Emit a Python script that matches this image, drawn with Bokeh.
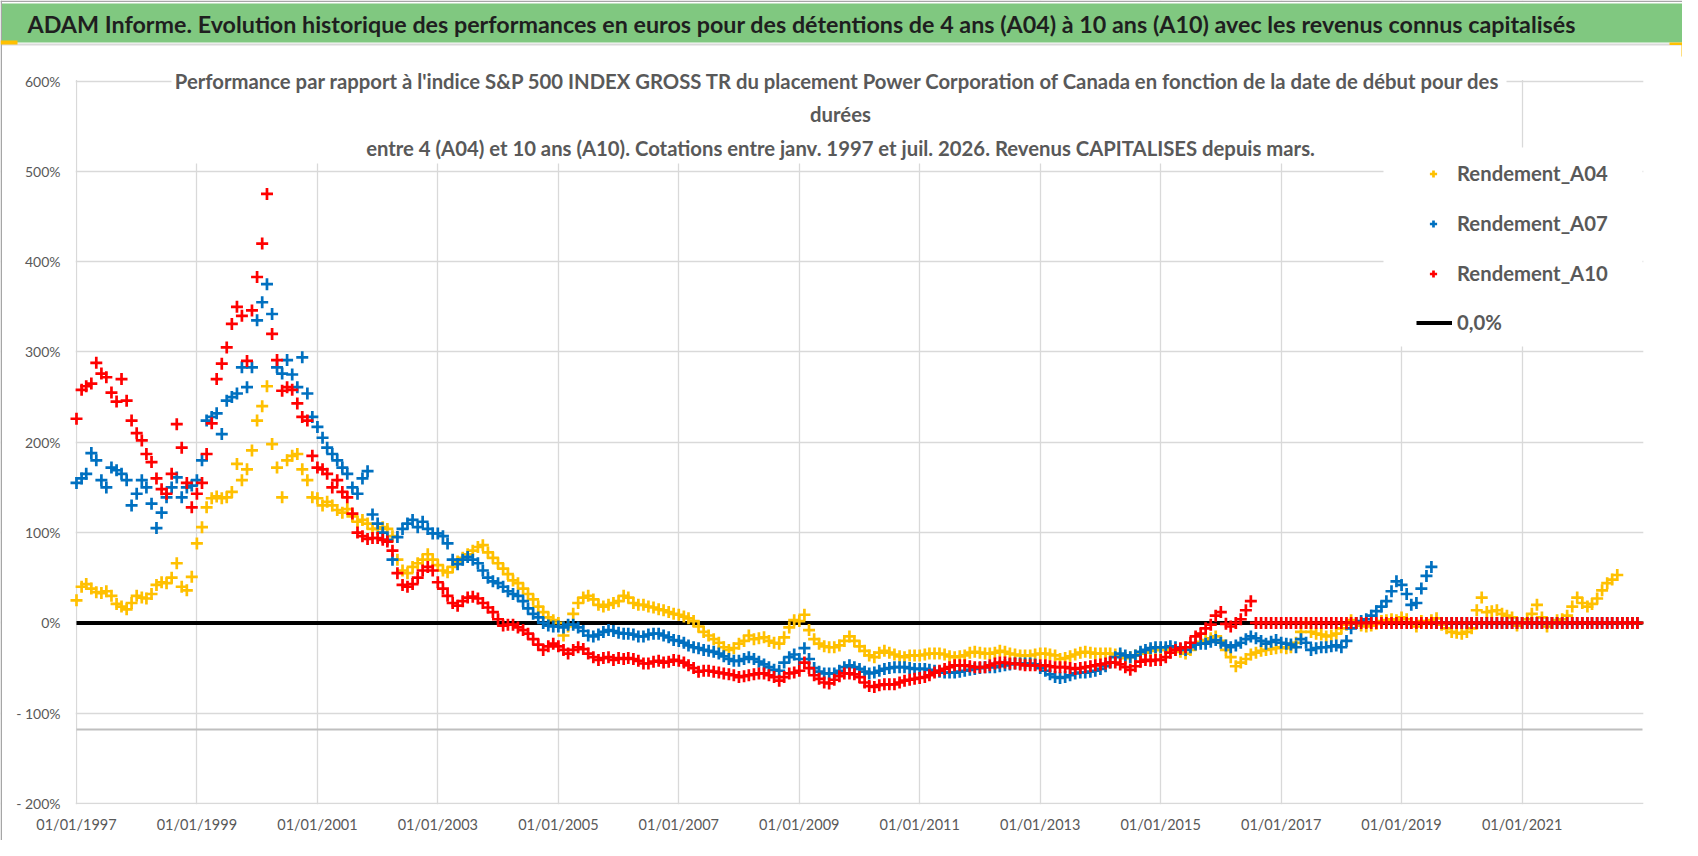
import pandas as pd
from bokeh.plotting import figure
from bokeh.models import (Range1d, FixedTicker, DatetimeTickFormatter, Label, Legend,
                          LegendItem, BoxAnnotation, ColumnDataSource)
from bokeh.embed import file_html
from bokeh.resources import INLINE

FONT = "Lato"
GREY_TEXT = "#595959"

header_text = ("ADAM Informe. Evolution historique des performances en euros pour des "
               "détentions de 4 ans (A04) à 10 ans (A10) avec les revenus connus capitalisés")
title_lines = [
    "Performance par rapport à l'indice S&P 500 INDEX GROSS TR  du placement Power "
    "Corporation of Canada en fonction de la date de début pour des",
    "durées",
    "entre 4 (A04) et 10 ans (A10). Cotations entre janv. 1997 et juil. 2026. "
    "Revenus CAPITALISES depuis mars.",
]

# monthly readings (%), first value = January 1997
first_month = "1997-01-01"
rendement_a04 = [
    25, 40, 43, 38, 34, 33, 35, 30, 21, 18, 15, 22,
    30, 28, 27, 32, 42, 45, 44, 50, 66, 40, 36, 51,
    88, 106, 128, 138, 140, 138, 139, 145, 176, 158, 170, 191,
    224, 240, 262, 198, 172, 139, 180, 185, 187, 170, 158, 139,
    138, 130, 134, 130, 125, 122, 126, 118, 112, 114, 110, 104,
    104, 106, 104, 96, 70, 58, 55, 62, 66, 70, 76, 70,
    64, 58, 56, 62, 68, 72, 76, 80, 84, 86, 78, 72,
    66, 60, 54, 47, 44, 38, 32, 26, 18, 12, 6, 3,
    0, -14, -4, 10, 22, 28, 30, 26, 20, 18, 20, 22,
    24, 30, 28, 22, 20, 20, 18, 17, 15, 14, 12, 10,
    9, 7, 5, 2, -4, -10, -14, -18, -22, -27, -30, -28,
    -23, -20, -14, -18, -17, -16, -20, -22, -23, -16, -5, 3,
    2, 9, -8, -18, -23, -26, -27, -27, -25, -20, -15, -20,
    -26, -31, -36, -38, -33, -31, -33, -35, -37, -38, -36, -36,
    -36, -35, -34, -34, -34, -35, -37, -38, -37, -36, -33, -32,
    -33, -34, -34, -33, -31, -32, -34, -35, -36, -36, -36, -35,
    -34, -34, -35, -36, -40, -39, -37, -35, -33, -32, -33, -34,
    -34, -34, -34, -35, -37, -39, -38, -36, -34, -33, -31, -30,
    -30, -30, -29, -30, -32, -34, -30, -24, -21, -19, -17, -15,
    -20, -30, -38, -48, -44, -40, -35, -33, -31, -30, -29, -28,
    -27, -28, -27, -22, -10, 0, -10, -12, -13, -15, -14, -12,
    -6, -2, 3, 0, -3, -4, -3, -1, 2, 3, 4, 3,
    6, 4, 0, -4, 2, 0, 3, 5, -2, -6, -10, -11,
    -12, -10, -6, 14, 28, 12, 13, 14, 10, 8, 6, -3,
    0, 4, 10, 20, 6, -4, 0, 3, 4, 8, 18, 28,
    22, 18, 21, 27, 36, 44, 48, 53, 0, 0, 0, 0,
]
rendement_a07 = [
    155, 160, 165, 188, 180, 158, 150, 172, 169, 165, 158, 130,
    143, 158, 150, 132, 105, 122, 139, 150, 161, 139, 150, 152,
    158, 180, 224, 228, 232, 209, 246, 250, 254, 283, 261, 283,
    335, 355, 375, 342, 283, 276, 291, 275, 261, 294, 254, 228,
    217, 205, 194, 187, 180, 172, 165, 150, 143, 160, 168, 120,
    110, 100, 92, 70, 95, 104, 110, 114, 106, 112, 104, 99,
    99, 96, 88, 70, 65, 70, 73, 70, 66, 58, 50, 46,
    44, 40, 35, 32, 30, 24, 16, 10, 6, 0, -3, -4,
    -4, -5, -2, -2, -5, -9, -14, -15, -13, -10, -8, -9,
    -11, -12, -12, -13, -15, -15, -13, -12, -12, -14, -16, -19,
    -20, -22, -25, -27, -28, -30, -31, -32, -34, -37, -40, -42,
    -42, -40, -38, -40, -43, -46, -49, -52, -53, -44, -38, -35,
    -40, -28, -40, -50, -54, -56, -56, -56, -53, -49, -47, -49,
    -51, -54, -56, -55, -53, -51, -50, -49, -49, -49, -50, -51,
    -51, -51, -52, -53, -54, -55, -55, -55, -54, -53, -52, -51,
    -50, -49, -49, -49, -48, -47, -46, -45, -45, -45, -45, -46,
    -50, -53, -57, -60, -61, -60, -58, -56, -55, -55, -54, -53,
    -51, -48, -44, -38, -34, -36, -38, -36, -32, -30, -28, -27,
    -27, -27, -26, -27, -29, -30, -27, -24, -23, -23, -21, -19,
    -22, -25, -27, -25, -22, -18, -15, -17, -20, -23, -21, -19,
    -22, -23, -24, -27, -18, -22, -30, -28, -27, -27, -26, -25,
    -27, -20, -6, 0, 2, 4, 8, 13, 18, 24, 35, 46,
    42, 32, 20, 22, 38, 52, 62, 0, 0, 0, 0, 0,
    0, 0, 0, 0, 0, 0, 0, 0, 0, 0, 0, 0,
    0, 0, 0, 0, 0, 0, 0, 0, 0, 0, 0, 0,
    0, 0, 0, 0, 0, 0, 0, 0, 0, 0, 0, 0,
]
rendement_a10 = [
    226, 258, 262, 265, 288, 276, 272, 255, 245, 270, 246, 224,
    210, 202, 187, 178, 160, 148, 143, 165, 220, 194, 155, 128,
    143, 155, 187, 221, 270, 287, 305, 331, 350, 340, 290, 346,
    383, 420, 475, 320, 291, 257, 261, 258, 243, 228, 224, 185,
    172, 170, 165, 150, 158, 145, 139, 121, 100, 96, 93, 94,
    94, 92, 90, 80, 55, 42, 40, 43, 50, 58, 62, 58,
    45, 38, 30, 22, 19, 24, 28, 29, 27, 22, 17, 12,
    4, -3, -2, -2, -5, -8, -12, -18, -24, -30, -26, -23,
    -26, -30, -34, -30, -27, -29, -34, -38, -41, -39, -38, -41,
    -39, -40, -39, -40, -42, -45, -45, -43, -42, -44, -43, -41,
    -42, -44, -47, -50, -54, -53, -53, -54, -55, -56, -57, -58,
    -60, -59, -58, -57, -56, -56, -58, -60, -64, -60, -56, -55,
    -53, -44, -50, -58, -62, -66, -67, -63, -59, -56, -56, -57,
    -60, -66, -70, -71, -69, -68, -68, -68, -66, -64, -63, -62,
    -61, -60, -58, -55, -53, -51, -49, -47, -47, -47, -48, -49,
    -49, -49, -47, -45, -44, -44, -45, -45, -46, -47, -47, -47,
    -47, -47, -48, -49, -49, -49, -50, -51, -50, -49, -48, -47,
    -46, -45, -44, -44, -46, -49, -52, -48, -43, -41, -42, -41,
    -41, -38, -33, -30, -28, -27, -22, -15, -12, -6, -2, 8,
    12, -1, -4, 0, 4, 14, 24, 0, 0, 0, 0, 0,
    0, 0, 0, 0, 0, 0, 0, 0, 0, 0, 0, 0,
    0, 0, 0, 0, 0, 0, 0, 0, 0, 0, 0, 0,
    0, 0, 0, 0, 0, 0, 0, 0, 0, 0, 0, 0,
    0, 0, 0, 0, 0, 0, 0, 0, 0, 0, 0, 0,
    0, 0, 0, 0, 0, 0, 0, 0, 0, 0, 0, 0,
    0, 0, 0, 0, 0, 0, 0, 0, 0, 0, 0, 0,
]
zero_dates = ["1997-01-01", "2023-01-01"]
zero_values = [0.0, 0.0]
axis_line_values = [-118.0, -118.0]

x_ticks = ["1997-01-01", "1999-01-01", "2001-01-01", "2003-01-01", "2005-01-01",
           "2007-01-01", "2009-01-01", "2011-01-01", "2013-01-01", "2015-01-01",
           "2017-01-01", "2019-01-01", "2021-01-01"]
y_ticks = [-200, -100, 0, 100, 200, 300, 400, 500, 600]
y_tick_labels = ["- 200%", "- 100%", "0%", "100%", "200%", "300%", "400%", "500%", "600%"]

df = pd.DataFrame({
    "date": pd.date_range(first_month, periods=len(rendement_a04), freq="MS"),
    "a04": rendement_a04,
    "a07": rendement_a07,
    "a10": rendement_a10,
})
source = ColumnDataSource(df)

W, H = 1682, 840
X_START, X_END = pd.Timestamp("1997-01-01"), pd.Timestamp("2023-01-01")
PX_X0, PX_X1 = 76, 1642      # pixel columns of 1997 and 2023
PX_Y600, PX_YM200 = 80.5, 803  # pixel rows of 600% and -200%


def to_ms(ts):
    return pd.Timestamp(ts).value / 1e6


def px_x(px):
    return to_ms(X_START) + (to_ms(X_END) - to_ms(X_START)) * (px - PX_X0) / (PX_X1 - PX_X0)


def px_y(py):
    return 600 - (py - PX_Y600) * 800 / (PX_YM200 - PX_Y600)


p = figure(width=W, height=H, x_axis_type="datetime",
           x_range=Range1d(px_x(0), px_x(W)), y_range=Range1d(px_y(H), px_y(0)),
           output_backend="svg", toolbar_location=None, min_border=0)
p.outline_line_color = None

# axes drawn along the 1997 and -200% lines, inside the canvas
p.xaxis.fixed_location = -200
p.yaxis.fixed_location = to_ms(X_START)
p.xaxis.bounds = (to_ms(X_START), to_ms(X_END))
p.yaxis.bounds = (-200, 600)
p.xaxis.ticker = FixedTicker(ticks=[to_ms(t) for t in x_ticks])
p.xaxis.formatter = DatetimeTickFormatter(years="%d/%m/%Y", months="%d/%m/%Y",
                                          days="%d/%m/%Y")
p.yaxis.ticker = FixedTicker(ticks=y_ticks)
p.yaxis.major_label_overrides = dict(zip(y_ticks, y_tick_labels))
p.axis.major_tick_line_color = None
p.axis.minor_tick_line_color = None
p.axis.major_tick_out = 0
p.axis.major_tick_in = 0
p.axis.axis_line_color = None
p.axis.major_label_text_font = FONT
p.axis.major_label_text_color = GREY_TEXT
p.xaxis.major_label_text_font_size = "14.5px"
p.xaxis.major_label_standoff = 12
p.yaxis.major_label_text_font_size = "14px"
p.yaxis.major_label_standoff = 16
p.grid.grid_line_color = "#d9d9d9"
p.grid.grid_line_width = 1.3

# keep grid lines inside the plot area
for kw in (dict(bottom=px_y(79.6)), dict(top=px_y(803.8)),
           dict(right=px_x(75.2)), dict(left=px_x(1642.8))):
    p.add_layout(BoxAnnotation(fill_color="white", fill_alpha=1, line_color=None,
                               level="underlay", **kw))

p.line(x=[pd.Timestamp(d) for d in zero_dates], y=axis_line_values, line_color="#bfbfbf",
       line_width=2)
p.line(x=[pd.Timestamp(d) for d in zero_dates], y=zero_values, line_color="black", line_width=4)
r04 = p.scatter("date", "a04", source=source, marker="cross", size=12, line_width=2.7,
                line_color="#FFC000")
r07 = p.scatter("date", "a07", source=source, marker="cross", size=12, line_width=2.7,
                line_color="#0070C0")
r10 = p.scatter("date", "a10", source=source, marker="cross", size=12, line_width=2.7,
                line_color="#FF0000")
r_zero = p.line(x=[pd.Timestamp(d) for d in zero_dates], y=zero_values, line_color="black",
                line_width=4, visible=False)

# header band, frame lines and selection marks
p.add_layout(BoxAnnotation(top=px_y(0), bottom=px_y(1.5), fill_color="#a6a6a6", fill_alpha=1,
                           line_color=None))
p.add_layout(BoxAnnotation(right=px_x(1.5), fill_color="#a6a6a6", fill_alpha=1,
                           line_color=None))
p.add_layout(BoxAnnotation(top=px_y(3), bottom=px_y(42), left=px_x(1.5), fill_color="#80c880",
                           fill_alpha=1, line_color=None))
p.add_layout(BoxAnnotation(top=px_y(43), bottom=px_y(45), left=px_x(1.5), fill_color="#d9d9d9",
                           fill_alpha=1, line_color=None))
for l, r, t, b in ((0, 17, 40, 44), (1669, 1684, 42, 44.5), (1681, 1684, 42, 56)):
    p.add_layout(BoxAnnotation(left=px_x(l), right=px_x(r), top=px_y(t), bottom=px_y(b),
                               fill_color="#FFC000", fill_alpha=1, line_color=None))
p.add_layout(Label(x=px_x(27), y=px_y(23), text=header_text, text_align="left",
                   text_baseline="middle", text_font=FONT, text_font_size="23.3px",
                   text_font_style="bold", text_color="#1f1f1f"))

# white areas behind the chart title and the legend
p.add_layout(BoxAnnotation(left=px_x(171), right=px_x(1506), top=px_y(79), bottom=px_y(163),
                           fill_color="white", fill_alpha=1, line_color=None))
p.add_layout(BoxAnnotation(left=px_x(1383), right=px_x(1642), top=px_y(147), bottom=px_y(346),
                           fill_color="white", fill_alpha=1, line_color=None))

for text, py in zip(title_lines, [80, 113, 147]):
    p.add_layout(Label(x=px_x(840), y=px_y(py), text=text, text_align="center",
                       text_baseline="middle", text_font=FONT, text_font_size="20.3px",
                       text_font_style="bold", text_color=GREY_TEXT))

legend_style = dict(orientation="vertical", glyph_height=27, label_height=27, spacing=23,
                    padding=0, margin=0, border_line_color=None, background_fill_alpha=0,
                    label_text_font=FONT, label_text_font_size="20.3px",
                    label_text_font_style="bold", label_text_color=GREY_TEXT)
p.add_layout(Legend(items=[LegendItem(label="Rendement_A04", renderers=[r04]),
                           LegendItem(label="Rendement_A07", renderers=[r07]),
                           LegendItem(label="Rendement_A10", renderers=[r10])],
                    location=(1424, H - 286.5), glyph_width=18, label_standoff=15,
                    **legend_style))
p.add_layout(Legend(items=[LegendItem(label="0,0%", renderers=[r_zero])],
                    location=(1416, H - 335.5), glyph_width=36, label_standoff=5,
                    **legend_style))

open("out.html", "w").write(file_html(p, INLINE))
